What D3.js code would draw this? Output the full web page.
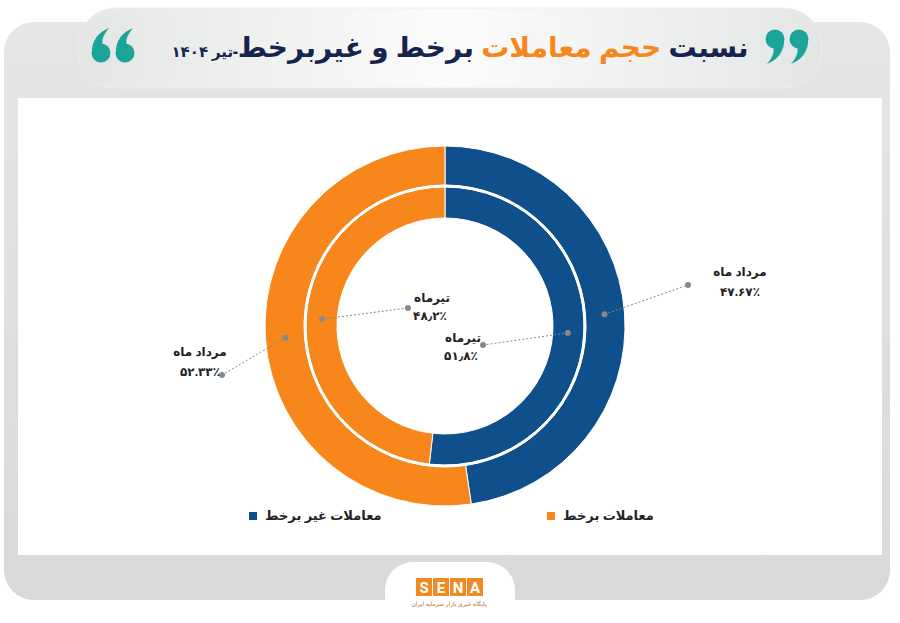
<!DOCTYPE html>
<html><head><meta charset="utf-8">
<script src="https://cdn.jsdelivr.net/npm/d3@7"></script>
<style>body{margin:0;background:#fff;font-family:"Noto Sans","DejaVu Sans",sans-serif}</style>
</head><body><svg id="c" width="900" height="623"></svg>
<script>
const categories = ["معاملات برخط", "معاملات غیر برخط"];
const colors = ["#f7861b", "#0f4f8c"];
const tirValues = [48.2, 51.8];
const mordadValues = [52.33, 47.67];
const tirLabels = ["۴۸٫۲٪", "۵۱٫۸٪"];
const mordadLabels = ["۵۲.۳۳٪", "۴۷.۶۷٪"];
const monthNames = ["تیرماه", "مرداد ماه"];

const svg = d3.select("#c");
const defs = svg.append("defs");
const g1 = defs.append("linearGradient").attr("id","bg").attr("x1",0).attr("y1",0).attr("x2",0).attr("y2",1);
g1.append("stop").attr("offset",0).attr("stop-color","#e6e6e6");
g1.append("stop").attr("offset",1).attr("stop-color","#d9d9d9");
const g2 = defs.append("linearGradient").attr("id","pill").attr("x1",0).attr("y1",0).attr("x2",1).attr("y2",0);
g2.append("stop").attr("offset",0).attr("stop-color","#e4e6e6");
g2.append("stop").attr("offset",0.5).attr("stop-color","#fbfbfb");
g2.append("stop").attr("offset",1).attr("stop-color","#e4e6e6");

svg.append("rect").attr("x",0).attr("y",0).attr("width",900).attr("height",623).attr("fill","#fff");
svg.append("rect").attr("x",4).attr("y",22).attr("width",886).attr("height",578).attr("rx",30).attr("fill","url(#bg)");
svg.append("rect").attr("x",78).attr("y",8).attr("width",744).attr("height",80).attr("rx",38).attr("fill","url(#pill)").attr("stroke","#eee");
svg.append("rect").attr("x",18).attr("y",98).attr("width",864).attr("height",457).attr("fill","#fff");
svg.append("rect").attr("x",385).attr("y",562).attr("width",130).attr("height",70).attr("rx",28).attr("fill","#fff");

// logo
const logo = svg.append("g");
"SENA".split("").forEach((ch,i)=>{
  logo.append("rect").attr("x",416+i*17).attr("y",578).attr("width",16).attr("height",18).attr("fill","#f08a24");
  logo.append("text").attr("x",424+i*17).attr("y",593).attr("text-anchor","middle").attr("fill","#fff")
    .attr("font-size",15).attr("font-weight",700).attr("font-family","Roboto").text(ch);
});
logo.append("text").attr("x",449).attr("y",606).attr("text-anchor","middle").attr("font-size",6).attr("fill","#b07030").text("پایگاه خبری بازار سرمایه ایران");

// title
const title = svg.append("text").attr("x",460).attr("y",57).attr("text-anchor","middle").attr("direction","rtl")
  .attr("font-family","Noto Sans, DejaVu Sans").attr("font-weight",900);
title.append("tspan").attr("font-size",28).attr("fill","#16234f").text("نسبت ");
title.append("tspan").attr("font-size",28).attr("fill","#f7861b").text("حجم معاملات ");
title.append("tspan").attr("font-size",28).attr("fill","#16234f").text("برخط و غیربرخط");
title.append("tspan").attr("font-size",15).attr("fill","#16234f").text("-تیر ۱۴۰۴");

// quote marks as shapes
function quote(x, y, flip){
  const q = svg.append("g").attr("transform",`translate(${x},${y}) ${flip?"rotate(180)":""}`).attr("fill","#1ba599");
  [-12,12].forEach(dx=>{
    q.append("circle").attr("cx",dx).attr("cy",-7).attr("r",9.5);
    q.append("path").attr("d",`M${dx+9},-8 C${dx+10},6 ${dx+2},14 ${dx-8},18 C${dx-3},12 ${dx},6 ${dx-2},0 Z`);
  });
}
quote(787,46,false);
quote(113,46,true);

const cx=445, cy=326;
const chart = svg.append("g").attr("transform",`translate(${cx},${cy})`);
const pie = d3.pie().sort(null).value(d=>d);
const order = [1,0];
function ring(values, r0, r1){
  const arcs = pie(order.map(i=>values[i]));
  const arc = d3.arc().innerRadius(r0).outerRadius(r1);
  chart.selectAll(null).data(arcs).enter().append("path").attr("d",arc)
    .attr("fill",(d,k)=>colors[order[k]]).attr("stroke","#fff").attr("stroke-width",1);
  return arcs.map(a=>(a.startAngle+a.endAngle)/2);
}
const outerMid = ring(mordadValues,141,180);
const innerMid = ring(tirValues,108,139);
chart.append("circle").attr("r",140).attr("fill","none").attr("stroke","#fff").attr("stroke-width",2.5);

function label(angle, r, tx, ty){
  const px = r*Math.sin(angle), py = -r*Math.cos(angle);
  chart.append("line").attr("x1",px).attr("y1",py).attr("x2",tx).attr("y2",ty)
    .attr("stroke","#888").attr("stroke-dasharray","2,2");
  chart.append("circle").attr("cx",px).attr("cy",py).attr("r",3).attr("fill","#888");
  chart.append("circle").attr("cx",tx).attr("cy",ty).attr("r",3).attr("fill","#888");
}
label(outerMid[0],160,243,-41);
label(outerMid[1],160,-223,49);
label(innerMid[0],123,38,19);
label(innerMid[1],123,-37,-18);
const txt=(x,y,s,w)=>chart.append("text").attr("x",x).attr("y",y).attr("text-anchor","middle").attr("direction","rtl")
  .attr("font-size",12).attr("font-weight",w).attr("fill","#222").text(s);
txt(295,-50,monthNames[1],800); txt(295,-30,mordadLabels[1],700);
txt(-245,30,monthNames[1],800); txt(-245,50,mordadLabels[0],700);
txt(18,16,monthNames[0],800); txt(16,34,tirLabels[1],700);
txt(-13,-24,monthNames[0],800); txt(-15,-6,tirLabels[0],700);

// legend
const leg=[{x:551,i:0},{x:253,i:1}];
leg.forEach(l=>{
  svg.append("rect").attr("x",l.x-4).attr("y",512).attr("width",8).attr("height",8).attr("fill",colors[l.i]);
  svg.append("text").attr("x",l.x+12).attr("y",520).attr("text-anchor","start").attr("direction","ltr")
    .attr("font-size",13).attr("font-weight",800).attr("fill","#222").text(categories[l.i]);
});
</script></body></html>
